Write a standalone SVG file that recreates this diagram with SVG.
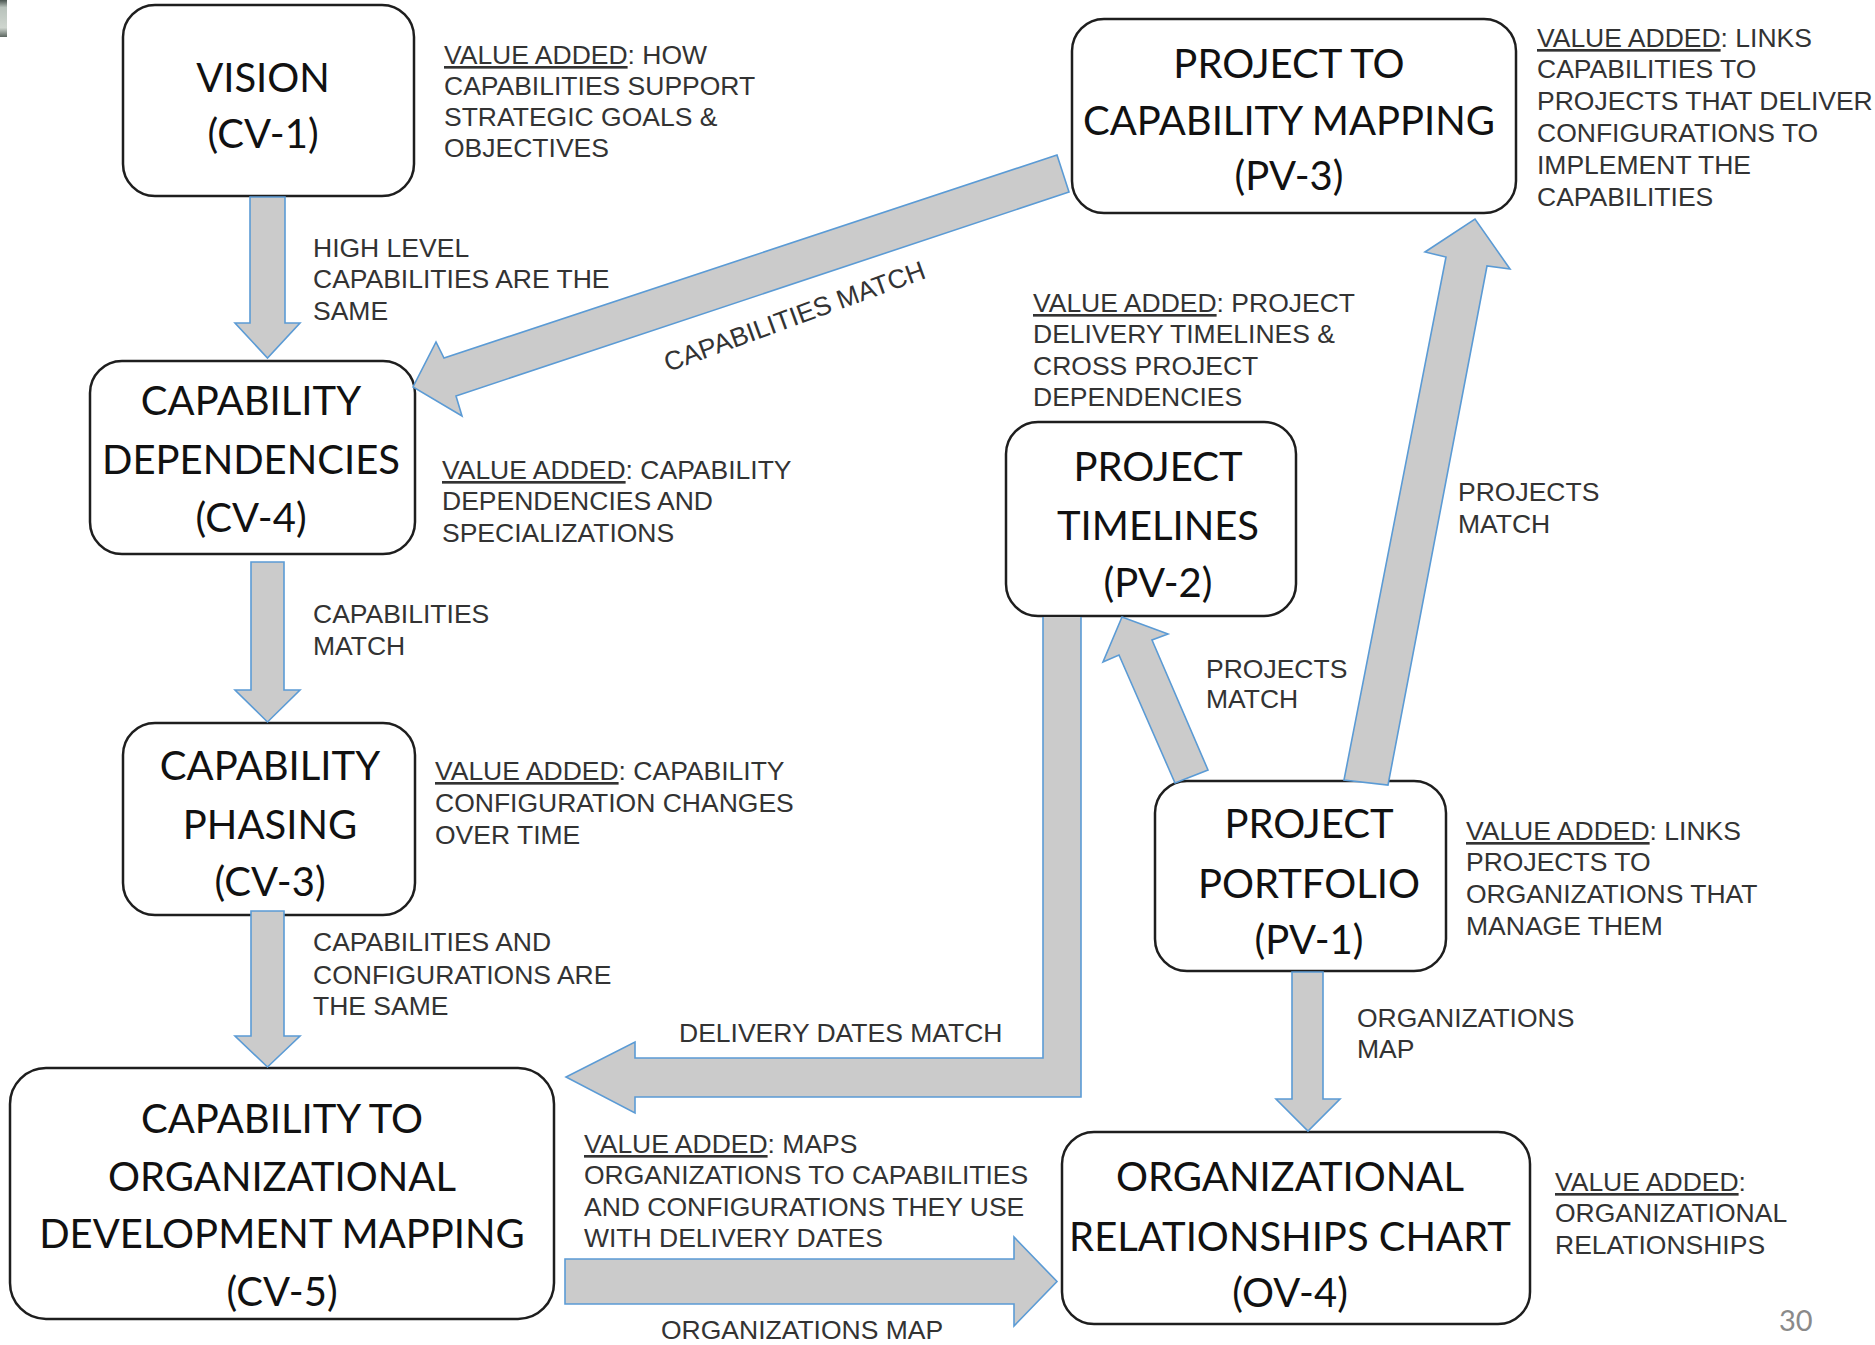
<svg xmlns="http://www.w3.org/2000/svg" width="1875" height="1345" viewBox="0 0 1875 1345">
<style>
.box{fill:#fff;stroke:#1e1e1e;stroke-width:2.5}
.nt{font-family:Lato,"Liberation Sans",sans-serif;font-size:40px;fill:#111;text-anchor:middle}
.an{font-family:"Liberation Sans",Arial,sans-serif;font-size:26.5px;fill:#333}
.u{text-decoration:underline}
.arr{fill:#cbcbcb;stroke:#5b9bd5;stroke-width:1.6;stroke-linejoin:miter}
.pg{font-family:Lato,"Liberation Sans",sans-serif;font-size:29px;fill:#8a8a8a}
</style>
<defs>
<linearGradient id="frag" x1="0" y1="0" x2="0" y2="1">
<stop offset="0" stop-color="#4a5550"/>
<stop offset="0.2" stop-color="#b8c2bb"/>
<stop offset="0.75" stop-color="#cfd6cf"/>
<stop offset="1" stop-color="#5c6660"/>
</linearGradient>
</defs>
<rect width="1875" height="1345" fill="#fff"/>
<rect x="0" y="0" width="7" height="37" fill="url(#frag)"/>

<g id="n-cv1">
<rect class="box" x="123" y="5" width="291" height="191" rx="32"/>
<text class="nt" x="263" y="92">VISION</text>
<text class="nt" x="263" y="148">(CV-1)</text>
</g>
<g id="n-cv4">
<rect class="box" x="90" y="361" width="325" height="193" rx="32"/>
<text class="nt" x="251" y="415">CAPABILITY</text>
<text class="nt" x="251" y="474">DEPENDENCIES</text>
<text class="nt" x="251" y="532">(CV-4)</text>
</g>
<g id="n-cv3">
<rect class="box" x="123" y="723" width="292" height="192" rx="32"/>
<text class="nt" x="270" y="780">CAPABILITY</text>
<text class="nt" x="270" y="839">PHASING</text>
<text class="nt" x="270" y="896">(CV-3)</text>
</g>
<g id="n-cv5">
<rect class="box" x="10" y="1068" width="544" height="251" rx="36"/>
<text class="nt" x="282" y="1133">CAPABILITY TO</text>
<text class="nt" x="282" y="1191">ORGANIZATIONAL</text>
<text class="nt" x="282" y="1248">DEVELOPMENT MAPPING</text>
<text class="nt" x="282" y="1306">(CV-5)</text>
</g>
<g id="n-pv3">
<rect class="box" x="1072" y="19" width="444" height="194" rx="32"/>
<text class="nt" x="1289" y="78">PROJECT TO</text>
<text class="nt" x="1289" y="135">CAPABILITY MAPPING</text>
<text class="nt" x="1289" y="190">(PV-3)</text>
</g>
<g id="n-pv2">
<rect class="box" x="1006" y="422" width="290" height="194" rx="32"/>
<text class="nt" x="1158" y="481">PROJECT</text>
<text class="nt" x="1158" y="540">TIMELINES</text>
<text class="nt" x="1158" y="597">(PV-2)</text>
</g>
<g id="n-pv1">
<rect class="box" x="1155" y="781" width="291" height="190" rx="32"/>
<text class="nt" x="1309" y="838">PROJECT</text>
<text class="nt" x="1309" y="898">PORTFOLIO</text>
<text class="nt" x="1309" y="954">(PV-1)</text>
</g>
<g id="n-ov4">
<rect class="box" x="1062" y="1132" width="468" height="192" rx="32"/>
<text class="nt" x="1290" y="1191">ORGANIZATIONAL</text>
<text class="nt" x="1290" y="1251">RELATIONSHIPS CHART</text>
<text class="nt" x="1290" y="1307">(OV-4)</text>
</g>

<g id="connectors">
<polygon class="arr" points="250,197 285,197 285,323 300,323 267.5,358 235,323 250,323"/>
<polygon class="arr" points="251,562 284,562 284,690 300,690 267.5,722 235,690 251,690"/>
<polygon class="arr" points="251,911 284,911 284,1036 300,1036 267.5,1067 235,1036 251,1036"/>
<polygon class="arr" points="1292,972 1323,972 1323,1099 1340,1099 1308,1131 1276,1099 1292,1099"/>
<polygon class="arr" points="565,1259 1014,1259 1014,1237 1057,1281.5 1014,1326 1014,1304 565,1304"/>
<path class="arr" d="M1043,617 L1043,1058 L635,1058 L635,1042 L566,1077 L635,1113 L635,1097 L1081,1097 L1081,617"/>
<polygon class="arr" points="1057,155 444,358 436,342 413,387 462,416 456,396 1069,192"/>
<polygon class="arr" points="1344,780 1446,257 1425,252 1475,219 1510,269 1487,266 1388,785"/>
<polygon class="arr" points="1175,783 1119,655 1103,662 1122,617 1168,634 1152,640 1208,770"/>
</g>

<g id="labels">
<text class="an" x="313" y="257">HIGH LEVEL</text>
<text class="an" x="313" y="288">CAPABILITIES ARE THE</text>
<text class="an" x="313" y="320">SAME</text>
<text class="an" x="313" y="623">CAPABILITIES</text>
<text class="an" x="313" y="655">MATCH</text>
<text class="an" x="313" y="951">CAPABILITIES AND</text>
<text class="an" x="313" y="984">CONFIGURATIONS ARE</text>
<text class="an" x="313" y="1015">THE SAME</text>
<text class="an" transform="translate(668,372) rotate(-20)">CAPABILITIES MATCH</text>
<text class="an" x="1458" y="501">PROJECTS</text>
<text class="an" x="1458" y="533">MATCH</text>
<text class="an" x="1206" y="678">PROJECTS</text>
<text class="an" x="1206" y="708">MATCH</text>
<text class="an" x="679" y="1042">DELIVERY DATES MATCH</text>
<text class="an" x="1357" y="1027">ORGANIZATIONS</text>
<text class="an" x="1357" y="1058">MAP</text>
<text class="an" x="661" y="1339">ORGANIZATIONS MAP</text>
</g>

<g id="notes">
<text class="an" x="444" y="64"><tspan class="u">VALUE ADDED</tspan>: HOW</text>
<text class="an" x="444" y="95">CAPABILITIES SUPPORT</text>
<text class="an" x="444" y="126">STRATEGIC GOALS &amp;</text>
<text class="an" x="444" y="157">OBJECTIVES</text>

<text class="an" x="1537" y="47"><tspan class="u">VALUE ADDED</tspan>: LINKS</text>
<text class="an" x="1537" y="78">CAPABILITIES TO</text>
<text class="an" x="1537" y="110">PROJECTS THAT DELIVER</text>
<text class="an" x="1537" y="142">CONFIGURATIONS TO</text>
<text class="an" x="1537" y="174">IMPLEMENT THE</text>
<text class="an" x="1537" y="206">CAPABILITIES</text>

<text class="an" x="1033" y="312"><tspan class="u">VALUE ADDED</tspan>: PROJECT</text>
<text class="an" x="1033" y="343">DELIVERY TIMELINES &amp;</text>
<text class="an" x="1033" y="375">CROSS PROJECT</text>
<text class="an" x="1033" y="406">DEPENDENCIES</text>

<text class="an" x="442" y="479"><tspan class="u">VALUE ADDED</tspan>: CAPABILITY</text>
<text class="an" x="442" y="510">DEPENDENCIES AND</text>
<text class="an" x="442" y="542">SPECIALIZATIONS</text>

<text class="an" x="435" y="780"><tspan class="u">VALUE ADDED</tspan>: CAPABILITY</text>
<text class="an" x="435" y="812">CONFIGURATION CHANGES</text>
<text class="an" x="435" y="844">OVER TIME</text>

<text class="an" x="584" y="1153"><tspan class="u">VALUE ADDED</tspan>: MAPS</text>
<text class="an" x="584" y="1184">ORGANIZATIONS TO CAPABILITIES</text>
<text class="an" x="584" y="1216">AND CONFIGURATIONS THEY USE</text>
<text class="an" x="584" y="1247">WITH DELIVERY DATES</text>

<text class="an" x="1466" y="840"><tspan class="u">VALUE ADDED</tspan>: LINKS</text>
<text class="an" x="1466" y="871">PROJECTS TO</text>
<text class="an" x="1466" y="903">ORGANIZATIONS THAT</text>
<text class="an" x="1466" y="935">MANAGE THEM</text>

<text class="an" x="1555" y="1191"><tspan class="u">VALUE ADDED</tspan>:</text>
<text class="an" x="1555" y="1222">ORGANIZATIONAL</text>
<text class="an" x="1555" y="1254">RELATIONSHIPS</text>
</g>

<text class="pg" x="1779" y="1331">30</text>
</svg>
